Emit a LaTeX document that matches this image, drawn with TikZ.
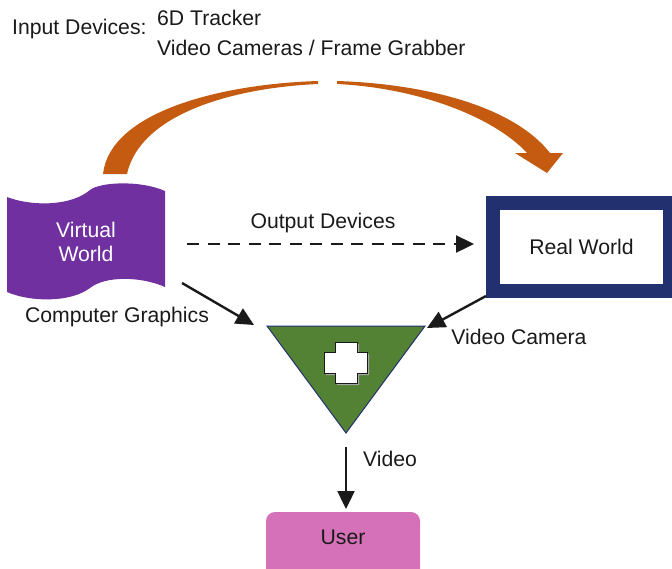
\documentclass[tikz,border=0pt]{standalone}
\usepackage{fontspec}
\setmainfont{Liberation Sans}
\usetikzlibrary{arrows.meta}
\definecolor{flagpurple}{HTML}{7030A0}
\definecolor{rust}{HTML}{C55A11}
\definecolor{navy}{HTML}{233070}
\definecolor{leaf}{HTML}{548235}
\definecolor{orchid}{HTML}{D571B8}
\definecolor{ink}{HTML}{1A1A1A}
\tikzset{
  lbl/.style={text=ink, inner sep=0pt},
  link/.style={draw=ink, line width=2.4pt, -{Triangle[length=18pt,width=17pt]}},
  dashlink/.style={link, dash pattern=on 12pt off 8.5pt},
}
\begin{document}
\begin{tikzpicture}[x=1pt,y=-1pt,font=\fontsize{21.2}{25}\selectfont]
\useasboundingbox (0,0) rectangle (672,568);

% heading
\node[lbl, anchor=west] (indev) at (12,29) {Input Devices:};
\node[lbl, anchor=west] (tracker) at (157,18) {6D Tracker};
\node[lbl, anchor=west] (cams) at (157,48) {Video Cameras / Frame Grabber};

% curved input arrow, left half
\fill[rust] (103,174) .. controls (110,112) and (220,84) .. (318,81)
  -- (318,84) .. controls (230,88) and (140,115) .. (127,174) -- cycle;
% curved input arrow, right half with head
\fill[rust] (337,81) .. controls (430,84) and (515,108) .. (550,153)
  -- (563,153) -- (547,173) -- (515,153) -- (527,153)
  .. controls (495,118) and (420,88) .. (337,84) -- cycle;

% virtual world flag
\fill[flagpurple] (7,197) .. controls (30,206) and (70,207) .. (90,190)
  .. controls (100,182) and (140,180) .. (165,191)
  -- (165,287) .. controls (140,276) and (105,276) .. (90,288)
  .. controls (70,303) and (30,302) .. (7,292) -- cycle;
\node[text=white, align=center, inner sep=0pt] (vw) at (86,242) {Virtual\\[-1pt]World};

% real world frame
\node[draw=navy, line width=14pt, minimum width=177pt, minimum height=88pt,
  text=ink, inner sep=0pt] (rw) at (581.5,247) {Real World};

% mixing triangle with cross
\filldraw[fill=leaf, draw=navy, line width=1pt] (267,326) -- (425,326) -- (346,433) -- cycle;
\coordinate (tri) at (346,360);
\fill[gray!70] (337,344) -- (359,344) -- (359,354) -- (369,354) -- (369,375) -- (359,375)
  -- (359,385) -- (337,385) -- (337,375) -- (326,375) -- (326,354) -- (337,354) -- cycle;
\filldraw[fill=white, draw=ink, line width=1pt] (335,342) -- (357,342) -- (357,352) -- (367,352)
  -- (367,373) -- (357,373) -- (357,383) -- (335,383) -- (335,373) -- (324,373) -- (324,352)
  -- (335,352) -- cycle;

% user box
\fill[orchid, rounded corners=9pt] (266,512) rectangle (420,600);
\node[lbl] (user) at (343,537) {User};

% connector end points
\coordinate (vwout) at (187,244);
\coordinate (rwin) at (474,244);
\coordinate (cgs) at (182,283);
\coordinate (cge) at (254,325);
\coordinate (vcs) at (486,296);
\coordinate (vce) at (427,328);
\coordinate (vds) at (346,447);
\coordinate (vde) at (346,509);

\draw[dashlink] (vwout) -- (rwin);
\draw[link] (cgs) -- (cge);
\draw[link] (vcs) -- (vce);
\draw[link] (vds) -- (vde);

% connector labels
\node[lbl] (outdev) at (323,223) {Output Devices};
\node[lbl] (cg) at (117,317) {Computer Graphics};
\node[lbl] (vc) at (519,337) {Video Camera};
\node[lbl] (vid) at (390,459) {Video};
\end{tikzpicture}
\end{document}
